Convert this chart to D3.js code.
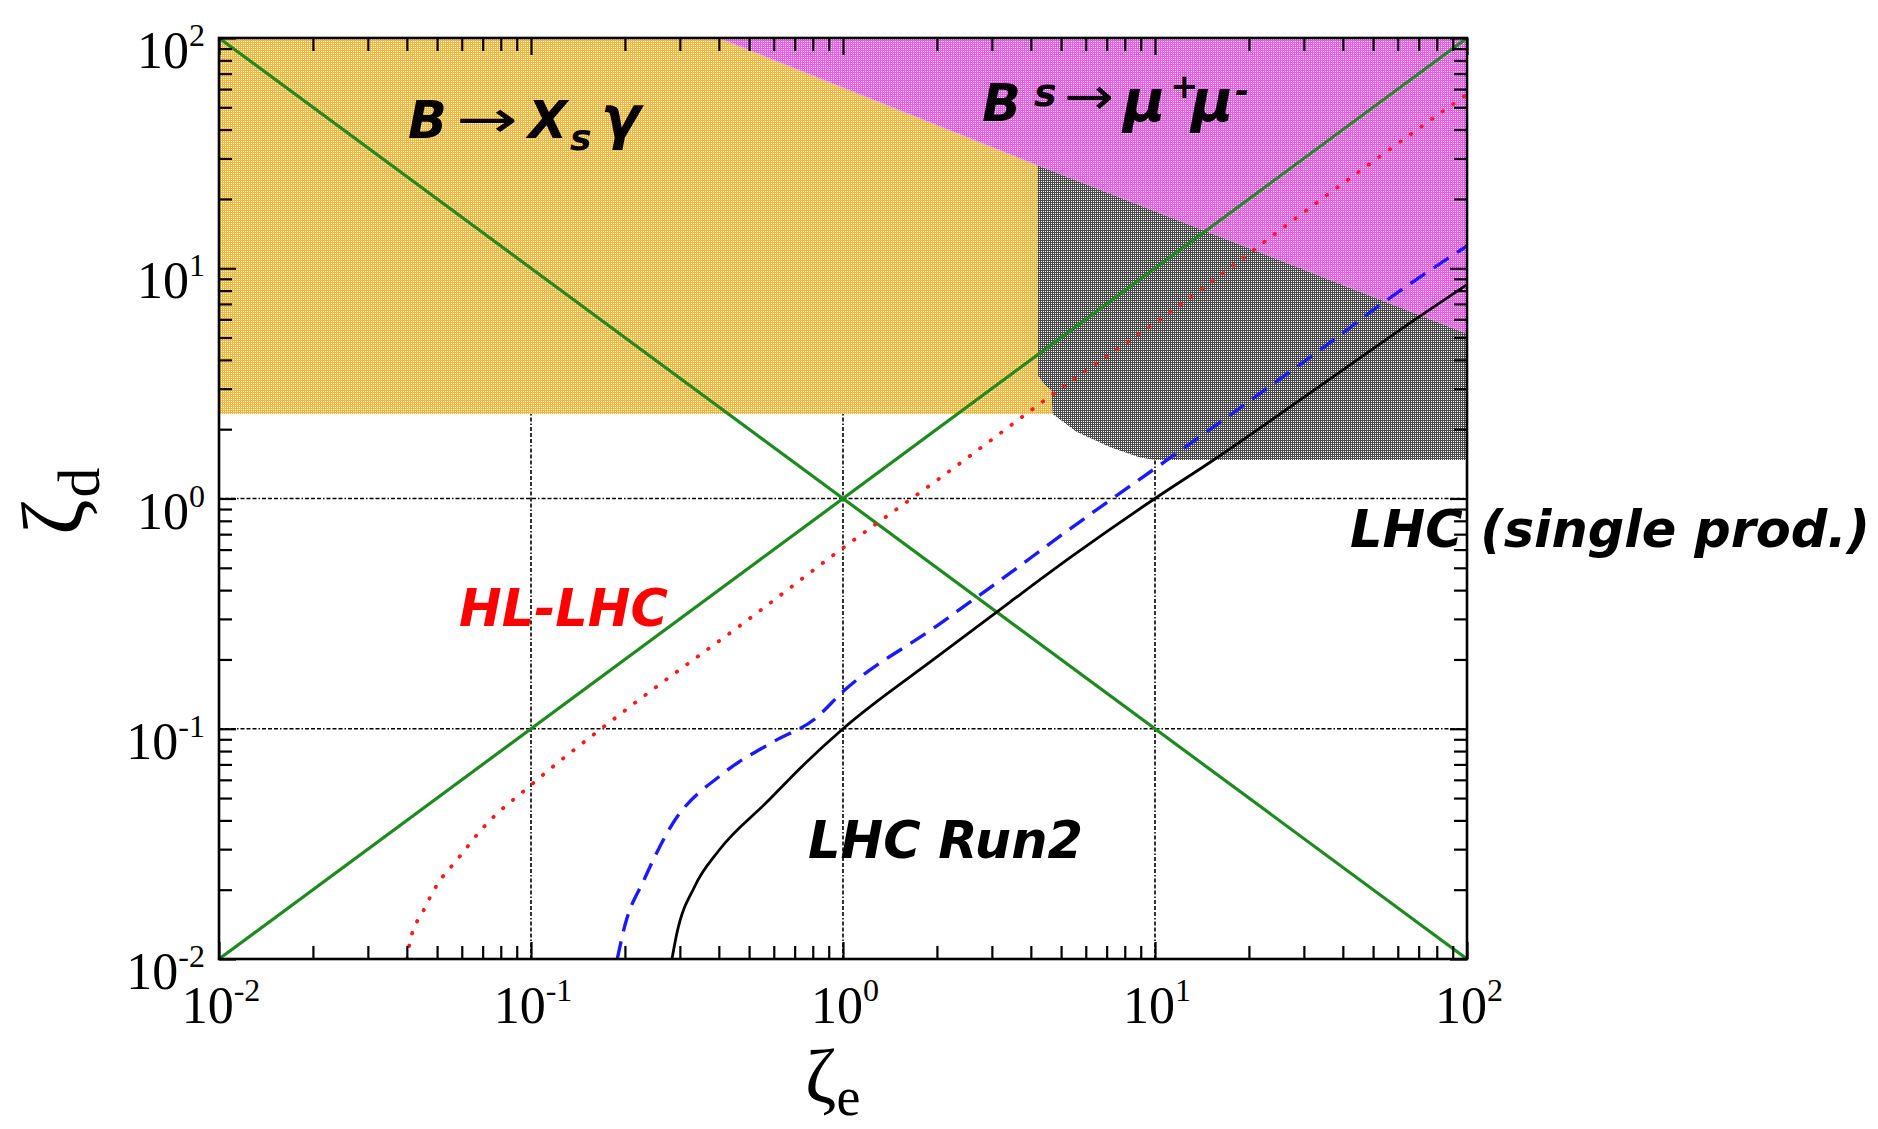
<!DOCTYPE html>
<html>
<head>
<meta charset="utf-8">
<script src="https://cdn.jsdelivr.net/npm/d3@7"></script>
<style>
  html, body { margin: 0; padding: 0; background: #ffffff; }
  svg { display: block; }
</style>
</head>
<body>
<svg id="chart" width="1878" height="1129"></svg>
<script>
// ---- data (ζe, ζd) ----
const axisDecades = [-2, -1, 0, 1, 2];
const gridValues = [0.1, 1, 10];

// diagonal reference lines ζd = ζe and ζd = 1/ζe
const diagUp = [[0.01, 0.01], [100, 100]];
const diagDown = [[0.01, 100], [100, 0.01]];

// excluded regions
const bsgRegion = [[0.01, 100], [0.4, 100], [4.2, 28], [4.22, 3.4], [4.45, 3.1], [4.65, 2.95], [4.7, 2.33], [0.01, 2.33]];
const bsmumuRegion = [[0.4, 100], [100, 100], [100, 5.2], [4.2, 28]];
const singleProdRegion = [[4.2, 28], [100, 5.2], [100, 1.47], [10, 1.47], [8.9, 1.51], [7.2, 1.67], [5.6, 1.95], [4.7, 2.33], [4.65, 2.95], [4.45, 3.1], [4.22, 3.4]];

// projected reach curves
const hlLhcCurve = [[0.040, 0.010], [0.041, 0.012], [0.045, 0.016], [0.050, 0.021], [0.058, 0.027], [0.07, 0.037], [0.1, 0.057], [0.2, 0.12], [0.5, 0.3], [1, 0.61], [2, 1.2], [5.6, 3.36], [9.9, 5.73], [15.8, 9.1], [27.6, 16.1], [53.3, 31], [100, 57]];
const run2DashedCurve = [[0.189, 0.010], [0.2, 0.014], [0.23, 0.022], [0.281, 0.0377], [0.417, 0.0646], [0.6, 0.088], [0.81, 0.11], [1, 0.145], [2, 0.28], [3.18, 0.44], [5.21, 0.72], [7.53, 1.03], [10, 1.35], [13.9, 1.85], [22.8, 3.0], [37.3, 4.87], [54, 7.1], [100, 12.5]];
const run2SolidCurve = [[0.283, 0.010], [0.293, 0.0128], [0.335, 0.0207], [0.40, 0.0296], [0.569, 0.0479], [0.75, 0.07], [1, 0.1], [2, 0.205], [3.43, 0.355], [5.41, 0.56], [10, 1.0], [15.4, 1.47], [22.8, 2.12], [37.3, 3.38], [69, 6.06], [100, 8.5]];

// ---- layout ----
const svg = d3.select("#chart");
const x = d3.scaleLog().domain([0.01, 100]).range([219, 1467]);
const y = d3.scaleLog().domain([0.01, 100]).range([959, 38]);
const [x0, x1] = x.range();
const [y0, y1] = y.range();

const majors = axisDecades.map(e => Math.pow(10, e));
const minors = [];
axisDecades.slice(0, -1).forEach(e => {
  for (let k = 2; k <= 9; k++) minors.push(k * Math.pow(10, e));
});

// fill textures
const defs = svg.append("defs");
function dotPattern(id, base, dot) {
  const p = defs.append("pattern").attr("id", id)
    .attr("width", 2).attr("height", 2).attr("patternUnits", "userSpaceOnUse");
  p.append("rect").attr("width", 2).attr("height", 2).attr("fill", base);
  p.append("rect").attr("x", 1).attr("y", 1).attr("width", 1).attr("height", 1).attr("fill", dot);
}
dotPattern("texOrange", "#ffb534", "#ffffff");
dotPattern("texPink", "#f550f5", "#ffffff");
dotPattern("texGray", "#4a4a4a", "#ffffff");

defs.append("clipPath").attr("id", "plotClip")
  .append("rect").attr("x", x0).attr("y", y1).attr("width", x1 - x0).attr("height", y0 - y1);

const plot = svg.append("g").attr("clip-path", "url(#plotClip)");

// dash-dot grid
const gridDash = "4,2,4,2,4,2,1.5,2";
plot.selectAll("line.gx").data(gridValues).join("line").attr("class", "gx")
  .attr("x1", d => x(d)).attr("x2", d => x(d)).attr("y1", y0).attr("y2", y1)
  .attr("stroke", "#000").attr("stroke-width", 1.6).attr("stroke-dasharray", gridDash);
plot.selectAll("line.gy").data(gridValues).join("line").attr("class", "gy")
  .attr("y1", d => y(d)).attr("y2", d => y(d)).attr("x1", x0).attr("x2", x1)
  .attr("stroke", "#000").attr("stroke-width", 1.6).attr("stroke-dasharray", gridDash);

// regions
const area = d3.line().x(d => x(d[0])).y(d => y(d[1]));
plot.append("path").datum(bsgRegion).attr("d", d => area(d) + "Z").attr("fill", "url(#texOrange)");
plot.append("path").datum(bsmumuRegion).attr("d", d => area(d) + "Z").attr("fill", "url(#texPink)");
plot.append("path").datum(singleProdRegion).attr("d", d => area(d) + "Z").attr("fill", "url(#texGray)");

// reach curves
const curve = d3.line().x(d => x(d[0])).y(d => y(d[1])).curve(d3.curveMonotoneX);
plot.append("path").datum(diagUp).attr("d", area).attr("fill", "none")
  .attr("stroke", "#1f8a1f").attr("stroke-width", 3.2);
plot.append("path").datum(diagDown).attr("d", area).attr("fill", "none")
  .attr("stroke", "#1f8a1f").attr("stroke-width", 3.2);
plot.append("path").datum(hlLhcCurve).attr("d", curve).attr("fill", "none")
  .attr("stroke", "#ff1a1a").attr("stroke-width", 3.8).attr("stroke-linecap", "round")
  .attr("stroke-dasharray", "0.5,12.5");
plot.append("path").datum(run2DashedCurve).attr("d", curve).attr("fill", "none")
  .attr("stroke", "#1a1aff").attr("stroke-width", 3.4).attr("stroke-dasharray", "18,10");
plot.append("path").datum(run2SolidCurve).attr("d", curve).attr("fill", "none")
  .attr("stroke", "#000").attr("stroke-width", 2.8);

// axes: ticks on all four sides, pointing inward
function ticks(axisFn, scale, vals, size, transform) {
  svg.append("g").attr("transform", transform)
    .call(axisFn(scale).tickValues(vals).tickSize(size).tickFormat(""))
    .call(g => g.select(".domain").remove())
    .call(g => g.selectAll("line").attr("stroke", "#000").attr("stroke-width", 2.2));
}
ticks(d3.axisBottom, x, minors, -13, `translate(0,${y0})`);
ticks(d3.axisBottom, x, majors, -17, `translate(0,${y0})`);
ticks(d3.axisTop, x, minors, -13, `translate(0,${y1})`);
ticks(d3.axisTop, x, majors, -17, `translate(0,${y1})`);
ticks(d3.axisLeft, y, minors, -13, `translate(${x0},0)`);
ticks(d3.axisLeft, y, majors, -17, `translate(${x0},0)`);
ticks(d3.axisRight, y, minors, -13, `translate(${x1},0)`);
ticks(d3.axisRight, y, majors, -17, `translate(${x1},0)`);

svg.append("rect").attr("x", x0).attr("y", y1).attr("width", x1 - x0).attr("height", y0 - y1)
  .attr("fill", "none").attr("stroke", "#000").attr("stroke-width", 2.6);

// tick labels: 10^n
const serif = "'Liberation Serif', 'DejaVu Serif', serif";
function powerLabel(sel) {
  sel.attr("font-family", serif).attr("fill", "#000");
  sel.append("tspan").attr("font-size", 52).text("10");
  sel.append("tspan").attr("font-size", 32).attr("dy", -22).text(d => d);
}
svg.append("g").selectAll("text").data(axisDecades).join("text")
  .attr("x", d => x(Math.pow(10, d)) + 2).attr("y", 1023)
  .attr("text-anchor", "middle").call(powerLabel);
svg.append("g").selectAll("text").data(axisDecades).join("text")
  .attr("x", 205).attr("y", d => y(Math.pow(10, d)) + 30)
  .attr("text-anchor", "end").call(powerLabel);

// axis titles
const xt = svg.append("text").attr("x", 805).attr("y", 1102).attr("font-family", serif);
xt.append("tspan").attr("font-size", 76).text("ζ");
xt.append("tspan").attr("font-size", 54).attr("dy", 13).text("e");

const yt = svg.append("text").attr("transform", "translate(82,535) rotate(-90)").attr("font-family", serif);
yt.append("tspan").attr("font-size", 86).text("ζ");
yt.append("tspan").attr("font-size", 60).attr("dx", 2).attr("dy", 17).text("d");

// annotations
const sans = "'DejaVu Sans', Verdana, sans-serif";
function note(px, py, color, size) {
  return svg.append("text").attr("x", px).attr("y", py).attr("font-family", sans)
    .attr("font-weight", "bold").attr("font-style", "italic").attr("font-size", size || 51).attr("fill", color);
}
function arrow(left, right, baseline) {
  svg.append("text").attr("x", left).attr("y", baseline).attr("font-family", sans)
    .attr("font-size", 52).attr("textLength", right - left).attr("lengthAdjust", "spacingAndGlyphs")
    .attr("fill", "#000").text("→");
}

// B → X_s γ
note(408, 138, "#000").text("B");
arrow(456, 518, 137);
const t1 = note(528, 138, "#000");
t1.append("tspan").text("X");
t1.append("tspan").attr("x", 570).attr("font-size", 36).attr("dy", 12).text("s");
t1.append("tspan").attr("x", 601).attr("dy", -12).attr("font-size", 58).text("γ");

// B^s → μ+μ-
const t2a = note(982, 121, "#000");
t2a.append("tspan").text("B");
t2a.append("tspan").attr("x", 1034).attr("y", 106).attr("font-size", 38).text("s");
arrow(1064, 1114, 114);
const t2 = note(1123, 121, "#000", 58);
t2.append("tspan").text("μ");
t2.append("tspan").attr("x", 1170).attr("y", 98).attr("font-size", 34).text("+");
t2.append("tspan").attr("x", 1191).attr("y", 121).text("μ");
t2.append("tspan").attr("x", 1235).attr("y", 102).attr("font-size", 34).text("-");

note(459, 626, "#ff0000").text("HL-LHC");
note(808, 858, "#000").text("LHC Run2");
note(1350, 547, "#000").text("LHC (single prod.)");
</script>
</body>
</html>
